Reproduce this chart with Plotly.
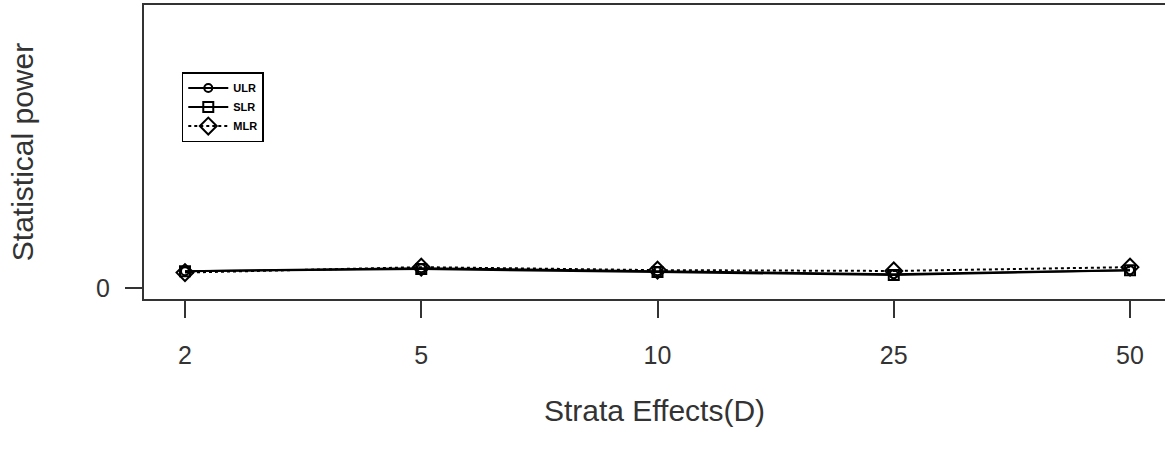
import plotly.graph_objects as go

categories = ["2", "5", "10", "25", "50"]
ulr = [0.062, 0.073, 0.062, 0.051, 0.066]
slr = [0.062, 0.070, 0.059, 0.048, 0.066]
mlr = [0.057, 0.077, 0.066, 0.063, 0.077]
x_pos = [1, 2, 3, 4, 5]

FONT = "Liberation Sans, Arial, sans-serif"
fig = go.Figure()
fig.add_trace(go.Scatter(x=x_pos, y=ulr, name="ULR", mode="lines+markers",
                         line=dict(color="black", width=2),
                         marker=dict(symbol="circle-open", size=8, color="black", line=dict(width=2))))
fig.add_trace(go.Scatter(x=x_pos, y=slr, name="SLR", mode="lines+markers",
                         line=dict(color="black", width=2),
                         marker=dict(symbol="square-open", size=10, color="black", line=dict(width=2))))
fig.add_trace(go.Scatter(x=x_pos, y=mlr, name="MLR", mode="lines+markers",
                         line=dict(color="black", width=2, dash="dot"),
                         marker=dict(symbol="diamond-open", size=13, color="black", line=dict(width=2))))

fig.update_layout(
    width=1165, height=452,
    margin=dict(l=144, r=0, t=5, b=153),
    paper_bgcolor="white", plot_bgcolor="white",
    font=dict(family=FONT, size=25, color="#333"),
    legend=dict(x=0.037, y=0.772, xanchor="left", yanchor="top",
                bordercolor="black", borderwidth=1.5,
                font=dict(family=FONT, size=11, color="black", weight="bold"),
                itemwidth=40, tracegroupgap=0),
    showlegend=True,
)
fig.update_xaxes(range=[0.8265, 5.148], tickvals=x_pos, ticktext=categories,
                 showgrid=False, zeroline=False, showline=True, linecolor="#333",
                 linewidth=2, mirror=True, ticks="outside", ticklen=17, tickwidth=2,
                 tickcolor="#333", ticklabelstandoff=16,
                 title=dict(text="Statistical power" if False else "Strata Effects(D)", standoff=32))
fig.update_yaxes(range=[-0.04, 1.04], tickvals=[0], ticktext=["0"],
                 showgrid=False, zeroline=False, showline=True, linecolor="#333",
                 linewidth=2, mirror=False, ticks="outside", ticklen=17, tickwidth=2,
                 tickcolor="#333", ticklabelstandoff=10,
                 title=dict(text="Statistical power", standoff=54))
fig.write_html("out.html")
